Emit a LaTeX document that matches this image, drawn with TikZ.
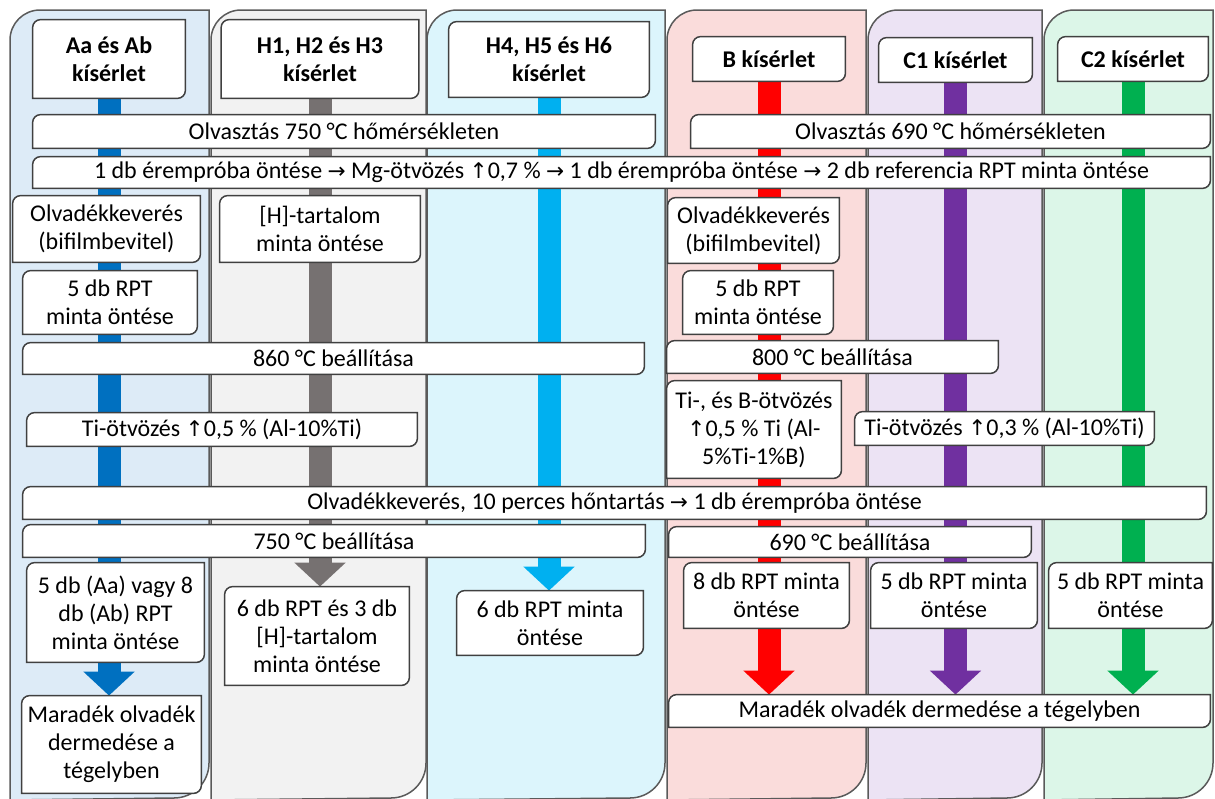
\documentclass[tikz,border=0pt]{standalone}
\usepackage{fontspec}
\setmainfont{Carlito}
\newfontfamily\arrowfont[Scale=0.9]{DejaVu Sans}
\usetikzlibrary{arrows.meta}
\definecolor{boxline}{HTML}{404040}
\definecolor{laneline}{HTML}{5A5A5A}
\definecolor{laneA}{HTML}{DDEBF7}
\definecolor{laneH}{HTML}{F2F2F2}
\definecolor{laneHb}{HTML}{DCF5FC}
\definecolor{laneB}{HTML}{FADCDB}
\definecolor{laneC}{HTML}{ECE3F4}
\definecolor{laneD}{HTML}{DCF6E8}
\definecolor{barA}{HTML}{0070C0}
\definecolor{barH}{HTML}{767171}
\definecolor{barHb}{HTML}{00B0F0}
\definecolor{barB}{HTML}{FF0000}
\definecolor{barC}{HTML}{7030A0}
\definecolor{barD}{HTML}{00B050}
\newcommand{\ra}{{\arrowfont →}}
\newcommand{\ua}{{\arrowfont ↑}}
% frame with rounded top-left and bottom-right corners
\newcommand{\diagframe}[1]{%
  \path[frame] ([xshift=4pt]#1.north west) -- (#1.north east)
    -- ([yshift=4pt]#1.south east) arc[start angle=0,end angle=-90,radius=4pt]
    -- (#1.south west) -- ([yshift=-4pt]#1.north west)
    arc[start angle=180,end angle=90,radius=4pt] -- cycle;}
\pgfdeclarelayer{lanes}
\pgfdeclarelayer{bars}
\pgfdeclarelayer{frames}
\pgfsetlayers{lanes,bars,frames,main}

\begin{document}
\begin{tikzpicture}[x=0.5pt, y=0.5pt,
    font=\fontsize{12}{14}\selectfont,
    stepbox/.style={align=center, inner sep=1pt},
    headbox/.style={stepbox, font=\fontsize{12}{14}\selectfont\bfseries},
    sz/.style 2 args={minimum width=#1*0.5pt, minimum height=#2*0.5pt},
    frame/.style={draw=boxline, fill=white, line width=0.75pt},
    lanebg/.style={draw=laneline, line width=0.75pt},
    bar/.style={draw=#1, line width=11.5pt, -{Triangle[width=25pt,length=12pt]}}
]
    \useasboundingbox (0,0) rectangle (1215,-798);

    % Fejlecek
    \node[headbox, sz={152}{78}] (hA) at (109,-59) {Aa és Ab\\kísérlet};
    \node[headbox, sz={197}{78}] (hH) at (320,-59) {H1, H2 és H3\\kísérlet};
    \node[headbox, sz={200}{75}] (hHb) at (549,-59.5) {H4, H5 és H6\\kísérlet};
    \node[headbox, sz={152}{44}] (hB) at (769,-59) {B kísérlet};
    \node[headbox, sz={153}{44}] (hC) at (955.5,-60) {C1 kísérlet};
    \node[headbox, sz={150}{44}] (hD) at (1133,-59) {C2 kísérlet};

    % Kozos lepesek
    \node[stepbox, sz={622}{33}] (melt750) at (344,-131.5) {Olvasztás 750 °C hőmérsékleten};
    \node[stepbox, sz={519}{33}] (melt690) at (950.5,-131.5) {Olvasztás 690 °C hőmérsékleten};
    \node[stepbox, sz={1177}{31}] (alloyMg) at (621.5,-172.5)
        {1 db érempróba öntése \ra{} Mg-ötvözés \ua0,7 \% \ra{} 1 db érempróba öntése \ra{} 2 db referencia RPT minta öntése};

    % Bal oldal
    \node[stepbox, sz={187}{66}] (mixA) at (106.5,-229) {Olvadékkeverés\\(bifilmbevitel)};
    \node[stepbox, sz={200}{66}] (hydH) at (320,-229) {{[H]}-tartalom\\minta öntése};
    \node[stepbox, sz={174}{63}] (rptA) at (110,-302.5) {5 db RPT\\minta öntése};
    \node[stepbox, sz={621}{31}] (set860) at (333.5,-358.5) {860 °C beállítása};
    \node[stepbox, sz={390}{33}] (ti05) at (222,-429.5) {Ti-ötvözés \ua0,5 \% (Al-10\%Ti)};

    % Jobb oldal
    \node[stepbox, sz={171}{65}] (mixB) at (753.5,-230.5) {Olvadékkeverés\\(bifilmbevitel)};
    \node[stepbox, sz={150}{63}] (rptB) at (758,-302.5) {5 db RPT\\minta öntése};
    \node[stepbox, sz={331}{32}] (set800) at (832.5,-357) {800 °C beállítása};
    \node[stepbox, sz={174}{97}] (tiB) at (754,-429.5) {Ti-, és B-ötvözés\\\ua0,5 \% Ti (Al-\\5\%Ti-1\%B)};
    \node[stepbox, sz={299}{33}] (ti03) at (1004.5,-428.5) {Ti-ötvözés \ua0,3 \% (Al-10\%Ti)};

    \node[stepbox, sz={1183}{32}] (hold) at (614.5,-503) {Olvadékkeverés, 10 perces hőntartás \ra{} 1 db érempróba öntése};
    \node[stepbox, sz={622}{32}] (set750) at (334,-541) {750 °C beállítása};
    \node[stepbox, sz={362}{30}] (set690) at (850,-542) {690 °C beállítása};

    % Mintak
    \node[stepbox, sz={177}{99}] (castA) at (115.5,-612.5) {5 db (Aa) vagy 8\\db (Ab) RPT\\minta öntése};
    \node[stepbox, sz={184}{98}] (endH) at (317,-636) {6 db RPT és 3 db\\{[H]}-tartalom\\minta öntése};
    \node[stepbox, sz={186}{64}] (endHb) at (550,-623) {6 db RPT minta\\öntése};
    \node[stepbox, sz={165}{65}] (castB) at (766.5,-595.5) {8 db RPT minta\\öntése};
    \node[stepbox, sz={166}{65}] (castC) at (954,-595.5) {5 db RPT minta\\öntése};
    \node[stepbox, sz={163}{65}] (castD) at (1130.5,-595.5) {5 db RPT minta\\öntése};
    \node[stepbox, sz={179}{97}] (endA) at (111.5,-744.5) {Maradék olvadék\\dermedése a\\tégelyben};
    \node[stepbox, sz={541}{32}] (endBC) at (939.5,-711) {Maradék olvadék dermedése a tégelyben};

    % Savok
    \begin{pgfonlayer}{lanes}
        \foreach \xa/\xb/\col in {10/209/laneA, 211/426/laneH, 427/665/laneHb,
                                  667/866/laneB, 868/1042/laneC, 1044/1213/laneD}
            \path[lanebg, fill=\col] (\xa,-800) -- (\xa,-40) arc[start angle=180,end angle=90,radius=15pt]
                -- (\xb,-10) -- (\xb,-763) arc[start angle=0,end angle=-90,radius=17.5pt] -- cycle;
    \end{pgfonlayer}

    % Nyilak
    \begin{pgfonlayer}{bars}
        \foreach \hd/\en/\col in {hA/endA/barA, hH/endH/barH, hHb/endHb/barHb,
                                  hB/endBC/barB, hC/endBC/barC, hD/endBC/barD}
            \draw[bar=\col] (\hd.south) -- (\hd.south |- \en.north);
    \end{pgfonlayer}

    % Keretek
    \begin{pgfonlayer}{frames}
        \foreach \n in {hA, hH, hHb, hB, hC, hD, melt750, melt690, alloyMg,
                        mixA, hydH, rptA, set860, ti05, mixB, rptB, set800, tiB, ti03,
                        hold, set750, set690, castA, endH, endHb, castB, castC, castD,
                        endA, endBC}
            \diagframe{\n};
    \end{pgfonlayer}
\end{tikzpicture}
\end{document}
